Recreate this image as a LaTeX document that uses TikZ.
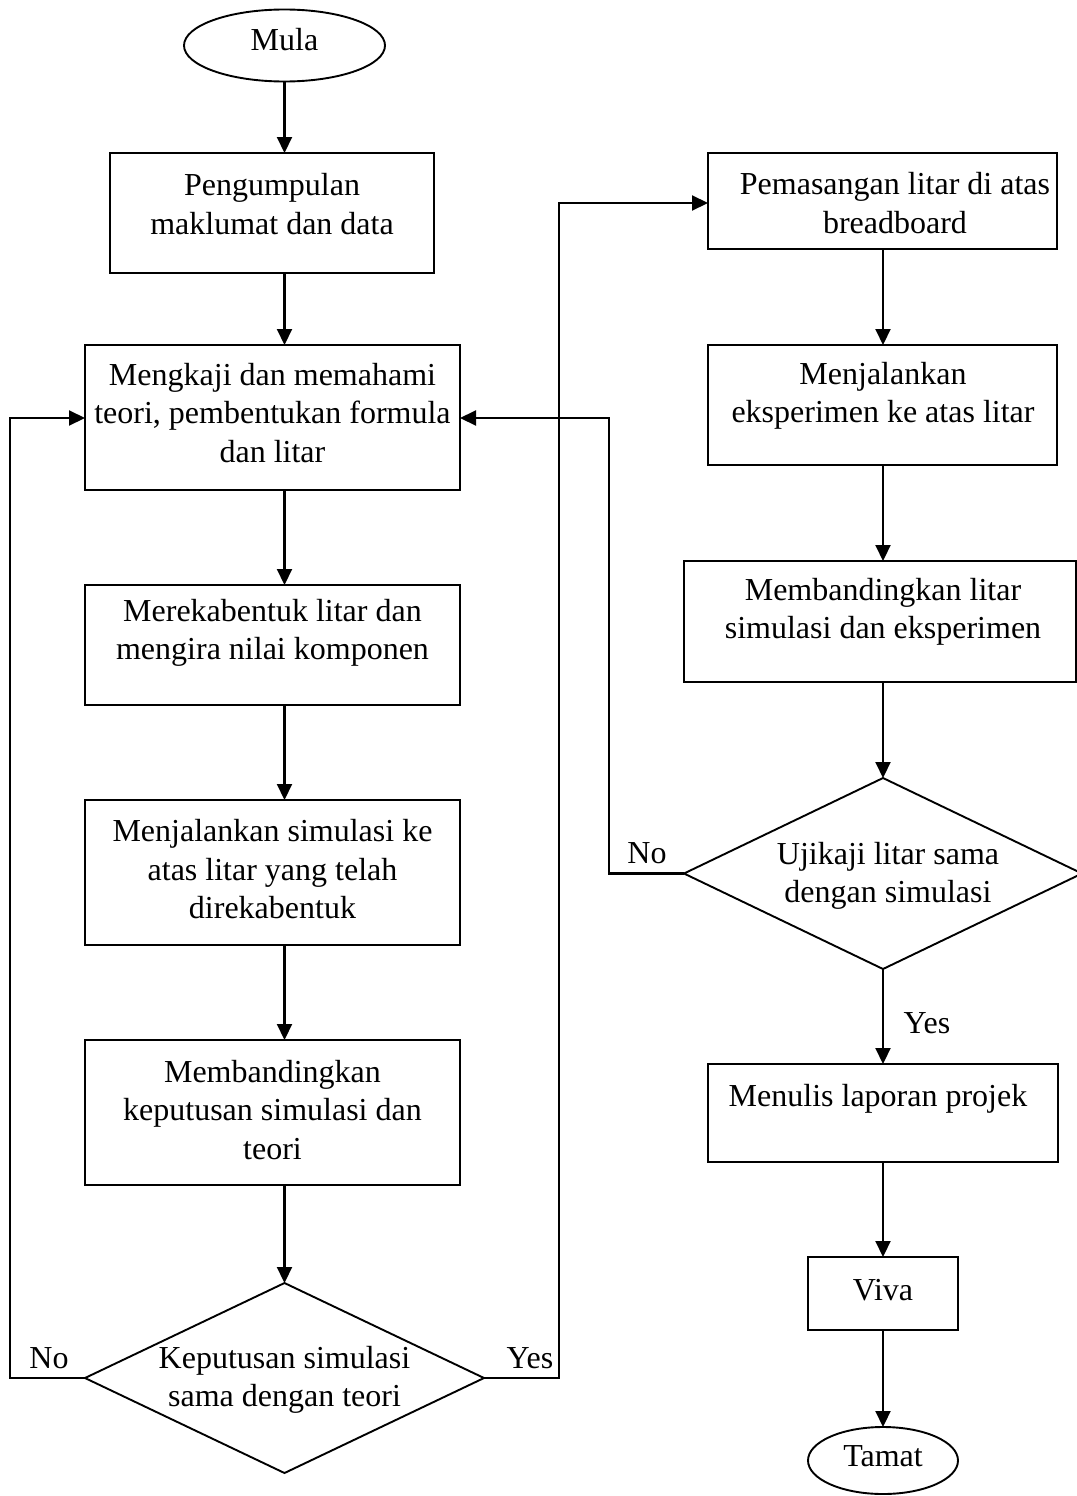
\documentclass[tikz,border=0pt]{standalone}
\usepackage{fontspec}
\setmainfont{Liberation Serif}
\usetikzlibrary{shapes.geometric,arrows.meta}
\begin{document}
\begin{tikzpicture}[x=1pt,y=-1pt,
 box/.style={draw, line width=1.9pt, rectangle, inner sep=0pt, outer sep=0pt},
 term/.style={draw, line width=1.9pt, ellipse, inner sep=0pt, outer sep=0pt},
 dec/.style={draw, line width=1.9pt, diamond, inner sep=0pt, outer sep=0pt},
 txt/.style={align=center, font=\fontsize{32}{38.5}\selectfont, inner sep=0pt},
 arr/.style={line width=2.1pt, -{Triangle[length=16pt,width=15pt]}},
]
\useasboundingbox[fill=white] (0,0) rectangle (1076,1496);
\coordinate (xl) at (284.5,0);
\coordinate (xr) at (883,0);
% left column
\node[term, minimum width=201pt, minimum height=72pt] (mula) at (284.5,45.5) {};
\node[txt] (mulat) at (284.5,40) {Mula};
\node[box, minimum width=324pt, minimum height=120pt] (b1) at (272,213) {};
\node[txt] (b1t) at (272,204) {Pengumpulan\\maklumat dan data};
\node[box, minimum width=375pt, minimum height=145pt] (b2) at (272.5,417.5) {};
\node[txt] (b2t) at (272.5,413) {Mengkaji dan memahami\\teori, pembentukan formula\\dan litar};
\node[box, minimum width=375pt, minimum height=120pt] (b3) at (272.5,645) {};
\node[txt] (b3t) at (272.5,633) {Merekabentuk litar dan\\mengira nilai komponen};
\node[box, minimum width=375pt, minimum height=145pt] (b4) at (272.5,872.5) {};
\node[txt] (b4t) at (272.5,869.5) {Menjalankan simulasi ke\\atas litar yang telah\\direkabentuk};
\node[box, minimum width=375pt, minimum height=145pt] (b5) at (272.5,1112.5) {};
\node[txt] (b5t) at (272.5,1110) {Membandingkan\\keputusan simulasi dan\\teori};
\node[dec, minimum width=399pt, minimum height=190pt] (d1) at (284.5,1378) {};
\node[txt] (d1t) at (284.5,1380) {Keputusan simulasi\\sama dengan teori};
% right column
\node[box, minimum width=349pt, minimum height=96pt] (b6) at (882.5,201) {};
\node[txt] (b6t) at (895,203) {Pemasangan litar di atas\\breadboard};
\node[box, minimum width=349pt, minimum height=120pt] (b7) at (882.5,405) {};
\node[txt] (b7t) at (883,396) {Menjalankan\\eksperimen ke atas litar};
\node[box, minimum width=392pt, minimum height=121pt] (b8) at (880,621.5) {};
\node[txt] (b8t) at (883,612) {Membandingkan litar\\simulasi dan eksperimen};
\node[dec, minimum width=398pt, minimum height=191pt] (d2) at (883,873.5) {};
\node[txt] (d2t) at (888,876) {Ujikaji litar sama\\dengan simulasi};
\node[box, minimum width=350pt, minimum height=98pt] (b9) at (883,1113) {};
\node[txt] (b9t) at (878,1099) {Menulis laporan projek};
\node[box, minimum width=150pt, minimum height=73pt] (viva) at (883,1293.5) {};
\node[txt] (vivat) at (883,1290) {Viva};
\node[term, minimum width=150pt, minimum height=67pt] (tamat) at (883,1460.5) {};
\node[txt] (tamatt) at (883,1456) {Tamat};
% labels
\node[txt] (no1) at (49,1358) {No};
\node[txt] (yes1) at (530,1358) {Yes};
\node[txt] (no2) at (647,853.5) {No};
\node[txt] (yes2) at (927,1023) {Yes};
% connectors left
\draw[arr] (mula.south) -- (b1.north -| xl);
\draw[arr] (b1.south -| xl) -- (b2.north -| xl);
\draw[arr] (b2.south -| xl) -- (b3.north -| xl);
\draw[arr] (b3.south -| xl) -- (b4.north -| xl);
\draw[arr] (b4.south -| xl) -- (b5.north -| xl);
\draw[arr] (b5.south -| xl) -- (d1.north);
% connectors right
\draw[arr] (b6.south -| xr) -- (b7.north -| xr);
\draw[arr] (b7.south -| xr) -- (b8.north -| xr);
\draw[arr] (b8.south -| xr) -- (d2.north);
\draw[arr] (d2.south) -- (b9.north -| xr);
\draw[arr] (b9.south -| xr) -- (viva.north);
\draw[arr] (viva.south) -- (tamat.north);
% loops
\coordinate (lx) at (10,418);
\coordinate (yx) at (559,203);
\coordinate (nx) at (609,418);
\draw[arr] (d1.west) -| (lx) -- (b2.west |- lx);
\draw[arr] (d1.east) -| (yx) -- (b6.west |- yx);
\draw[arr] (d2.west) -| (nx) -- (b2.east |- nx);
\end{tikzpicture}
\end{document}
